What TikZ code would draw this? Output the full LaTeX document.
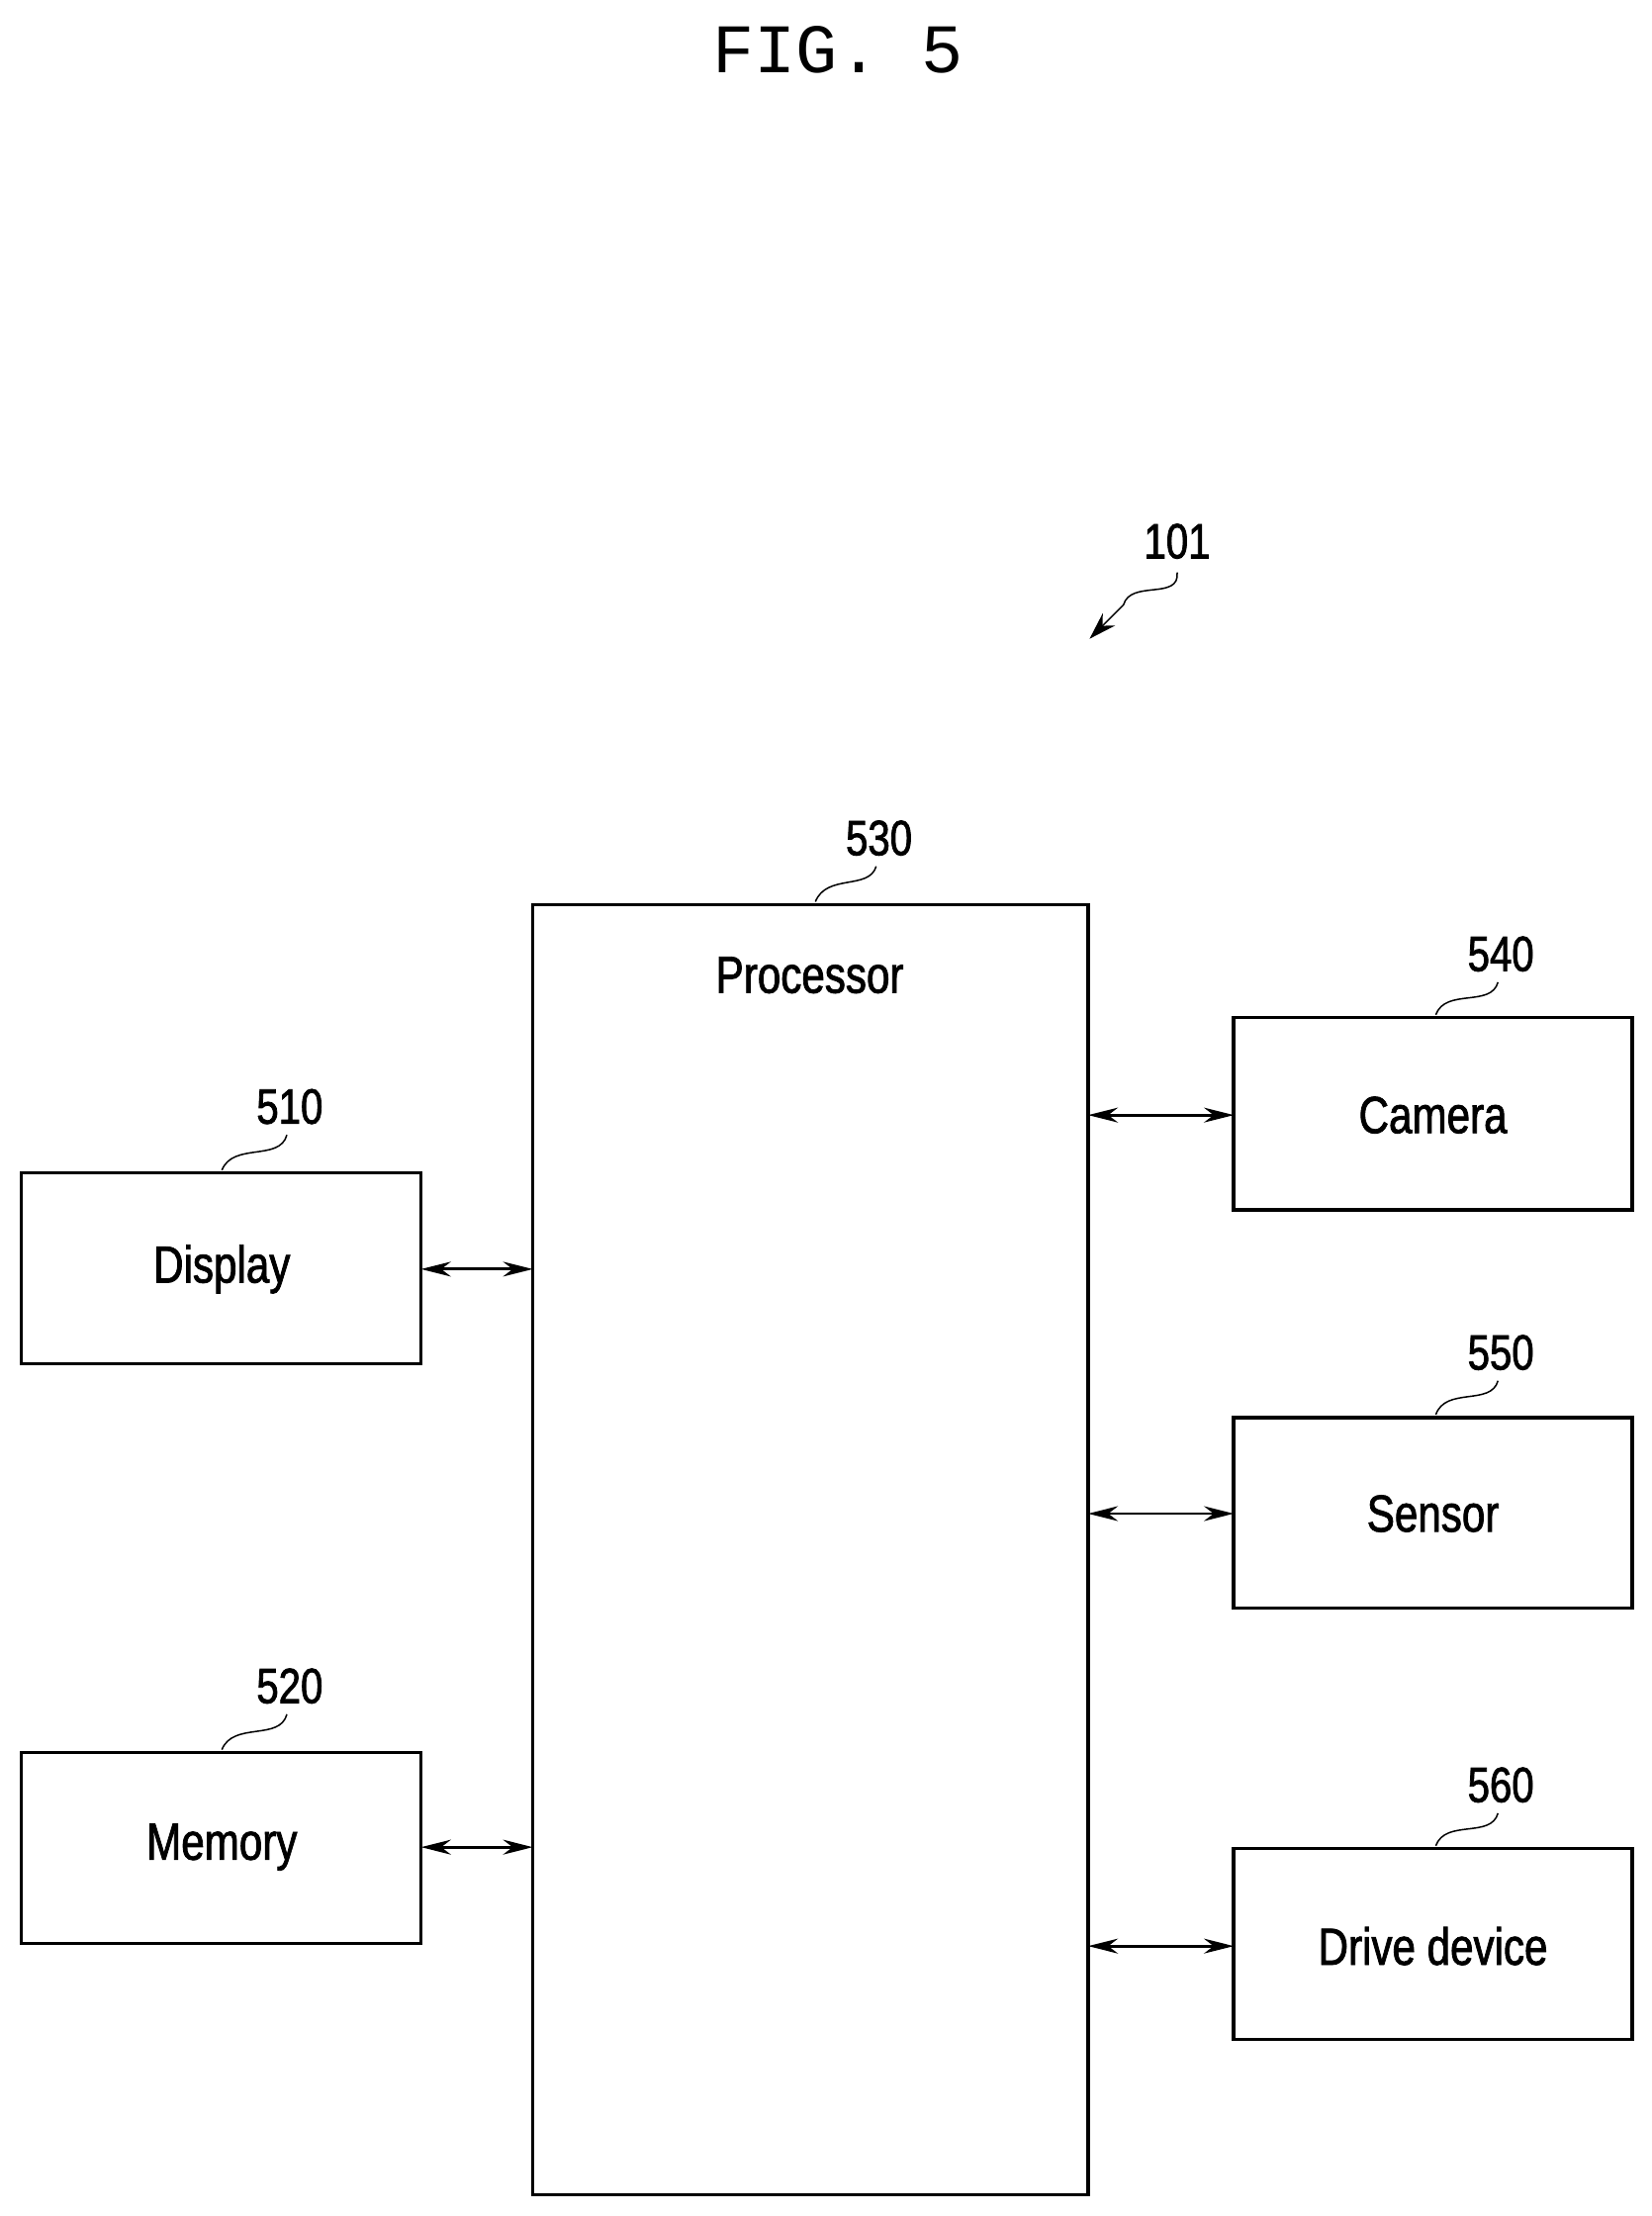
\documentclass[tikz,border=0pt]{standalone}
\usepackage{fontspec}
\setmainfont{Liberation Sans}[FakeStretch=0.8,FakeBold=1.5]
\setmonofont{Liberation Mono}
\usetikzlibrary{arrows.meta}
\begin{document}
\begin{tikzpicture}[x=0.02cm,y=-0.02cm,
	block/.style={draw,line width=1.4pt,inner sep=0pt},
	lbl/.style={font=\fontsize{21}{24}\selectfont},
	num/.style={font=\fontsize{20}{23}\selectfont},
	link/.style={{Stealth[length=12pt,width=6pt]}-{Stealth[length=12pt,width=6pt]},line width=1.1pt},
	lead/.style={line width=0.6pt}]
	\useasboundingbox (0,0) rectangle (1169,1568);

	\node[font=\ttfamily\fontsize{28}{32}\selectfont] (title) at (593,35) {FIG. 5};

	% blocks
	\draw[block] (377,640) rectangle (770,1553);
	\node[lbl] (proc) at (573,690) {Processor};
	\draw[block] (15,830) rectangle (298,965);
	\node[lbl] (disp) at (157,898) {Display};
	\draw[block] (15,1240) rectangle (298,1375);
	\node[lbl] (mem) at (157,1307) {Memory};
	\draw[block] (873,720) rectangle (1155,856);
	\node[lbl] (cam) at (1014,789) {Camera};
	\draw[block] (873,1003) rectangle (1155,1138);
	\node[lbl] (sens) at (1014,1071) {Sensor};
	\draw[block] (873,1308) rectangle (1155,1443);
	\node[lbl] (drive) at (1014,1377) {Drive device};

	% connectors
	\draw[link] (298,898) -- (377,898);
	\draw[link] (298,1307) -- (377,1307);
	\draw[link] (770,789) -- (873,789);
	\draw[link] (770,1071) -- (873,1071);
	\draw[link] (770,1377) -- (873,1377);

	% reference numbers
	\node[num] (n101) at (833,383) {101};
	\draw[lead,-{Stealth[length=11pt,width=7pt]}] (833,405) .. controls (835,425) and (800,410) .. (795,428) -- (771,452);
	\node[num] (n530) at (622,593) {530};
	\draw[lead] (620,613) .. controls (615,630) and (585,618) .. (577,638);
	\node[num] (n510) at (205,783) {510};
	\draw[lead] (203,803) .. controls (198,822) and (165,808) .. (157,828);
	\node[num] (n520) at (205,1193) {520};
	\draw[lead] (203,1213) .. controls (198,1232) and (165,1218) .. (157,1238);
	\node[num] (n540) at (1062,675) {540};
	\draw[lead] (1060,695) .. controls (1055,713) and (1023,699) .. (1016,718);
	\node[num] (n550) at (1062,957) {550};
	\draw[lead] (1060,977) .. controls (1055,995) and (1023,981) .. (1016,1001);
	\node[num] (n560) at (1062,1263) {560};
	\draw[lead] (1060,1283) .. controls (1055,1301) and (1023,1287) .. (1016,1306);
\end{tikzpicture}
\end{document}
